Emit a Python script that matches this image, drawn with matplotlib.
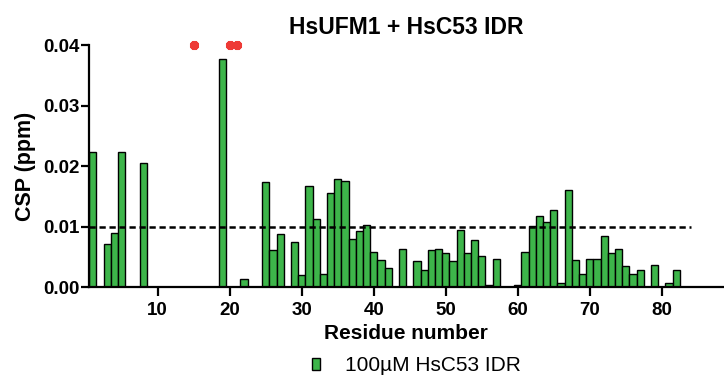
import matplotlib
matplotlib.use("Agg")
import matplotlib.pyplot as plt

plt.rcParams['font.family'] = ['Liberation Sans', 'DejaVu Sans']

# CSP per residue (0 = no shift / not observed)
residues = list(range(1, 85))
csp = [
    0.0223, 0.0, 0.0071, 0.0089, 0.0223, 0.0, 0.0, 0.0205, 0.0, 0.0,   # 1-10
    0.0, 0.0, 0.0, 0.0, 0.0, 0.0, 0.0, 0.0, 0.0377, 0.0,                # 11-20
    0.0, 0.0013, 0.0, 0.0, 0.0173, 0.0061, 0.0088, 0.0, 0.0075, 0.0020, # 21-30
    0.0167, 0.0113, 0.0021, 0.0156, 0.0179, 0.0175, 0.0080, 0.0093, 0.0102, 0.0058,  # 31-40
    0.0045, 0.0031, 0.0, 0.0062, 0.0, 0.0043, 0.0028, 0.0061, 0.0063, 0.0057,  # 41-50
    0.0043, 0.0095, 0.0056, 0.0077, 0.0051, 0.0004, 0.0047, 0.0, 0.0, 0.0004,  # 51-60
    0.0058, 0.0101, 0.0117, 0.0108, 0.0127, 0.0006, 0.0160, 0.0045, 0.0021, 0.0046,  # 61-70
    0.0047, 0.0085, 0.0056, 0.0062, 0.0034, 0.0022, 0.0028, 0.0, 0.0037, 0.0,  # 71-80
    0.0006, 0.0028, 0.0, 0.0,                                            # 81-84
]
star_residues = [15, 20, 21]
threshold = 0.01
series_label = '100µM HsC53 IDR'

fig = plt.figure(figsize=(7.24, 3.76), dpi=100)
ax = fig.add_axes([0.1229, 0.2367, 0.8757, 0.6436])

ax.bar(residues, csp, width=1.0, color='#3db54a', edgecolor='black',
       linewidth=1.0, label=series_label, zorder=2)
ax.plot([0.5, 84.0], [threshold, threshold], color='black', linestyle=(0, (2.5, 1.5)),
        linewidth=1.8, zorder=3)
ax.plot(star_residues, [0.04] * len(star_residues), linestyle='none',
        marker=(8, 2, 0), markersize=6.5, markeredgewidth=2.5, color='#ee3a36',
        clip_on=False, zorder=4)

ax.set_xlim(0.46, 88.5)
ax.set_ylim(0, 0.04)
ax.set_xticks([10, 20, 30, 40, 50, 60, 70, 80])
ax.set_yticks([0.0, 0.01, 0.02, 0.03, 0.04])
ax.set_yticklabels(['0.00', '0.01', '0.02', '0.03', '0.04'])

for s in ['top', 'right']:
    ax.spines[s].set_visible(False)
for s in ['left', 'bottom']:
    ax.spines[s].set_linewidth(1.6)

ax.tick_params(axis='both', width=1.6, labelsize=13.5)
ax.tick_params(axis='y', length=6, pad=1)
ax.tick_params(axis='x', length=6.5, pad=4)
for lbl in ax.get_xticklabels() + ax.get_yticklabels():
    lbl.set_fontweight('bold')

ax.set_ylabel('CSP (ppm)', fontsize=15.5, fontweight='bold', labelpad=5)
ax.set_xlabel('Residue number', fontsize=15, fontweight='bold', labelpad=4)
ax.set_title('HsUFM1 + HsC53 IDR', fontsize=16.5, fontweight='bold', pad=8)

fig.legend(loc='center', bbox_to_anchor=(0.575, 0.027), frameon=False,
           fontsize=15, handlelength=0.35, handleheight=0.5, handletextpad=1.2,
           borderaxespad=0)

fig.savefig('out.png', dpi=100)
